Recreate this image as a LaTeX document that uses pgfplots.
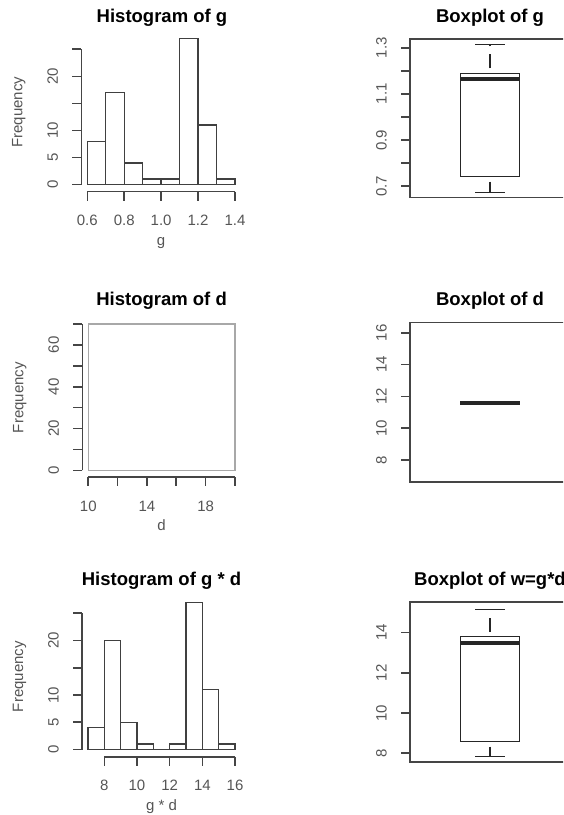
\documentclass[border=0pt]{standalone}
\usepackage{pgfplots}
\pgfplotsset{compat=1.18}
\usepgfplotslibrary{statistics}
\usepackage{fontspec}
\setmainfont{Liberation Sans}
\definecolor{axc}{HTML}{454545}
\definecolor{labc}{HTML}{555555}
\definecolor{barc}{HTML}{404040}
\definecolor{barl}{HTML}{A8A8A8}
\tikzset{
  axl/.style={draw=axc, line width=1.6pt},
  tkl/.style={font=\fontsize{15}{15}\selectfont, text=labc, inner sep=0pt},
  ttl/.style={font=\bfseries\fontsize{18.5}{20}\selectfont, text=black, inner sep=0pt, anchor=base},
}
\pgfplotsset{
  rpanel/.style={scale only axis, hide axis, clip=false, anchor=south west},
  boxplot/draw/lower whisker/.code={%
    \draw[dash pattern=on 14pt off 8pt, dash phase=17pt]
      (boxplot box cs:\pgfplotsboxplotvalue{lower quartile},0.5) -- (boxplot box cs:\pgfplotsboxplotvalue{lower whisker},0.5);
    \draw[solid] (boxplot whisker cs:\pgfplotsboxplotvalue{lower whisker},0) -- (boxplot whisker cs:\pgfplotsboxplotvalue{lower whisker},1);
  },
  boxplot/draw/upper whisker/.code={%
    \draw[dash pattern=on 14pt off 8pt, dash phase=17pt]
      (boxplot box cs:\pgfplotsboxplotvalue{upper quartile},0.5) -- (boxplot box cs:\pgfplotsboxplotvalue{upper whisker},0.5);
    \draw[solid] (boxplot whisker cs:\pgfplotsboxplotvalue{upper whisker},0) -- (boxplot whisker cs:\pgfplotsboxplotvalue{upper whisker},1);
  },
}
\begin{document}
\begin{tikzpicture}[x=1pt,y=1pt]
\useasboundingbox (0,0) rectangle (563,815);
\clip (0,0) rectangle (563,815);

% ---------------- Histogram of g
\begin{axis}[rpanel, ybar interval, at={(81.4pt,623.3pt)}, width=159.5pt, height=159.1pt,
  xmin=0.568, xmax=1.432, ymin=-1.33, ymax=28.08]
\addplot[fill=white, draw=barc, line width=1.3pt] coordinates {(0.6,8) (0.7,17) (0.8,4) (0.9,1) (1.0,1) (1.1,27) (1.2,11) (1.3,1) (1.4,1)};
\draw[axl] (axis cs:0.568,0) -- (axis cs:0.568,25);
\pgfplotsinvokeforeach{0,5,10,15,20,25}{\draw[axl] (axis cs:0.568,#1) -- ++(-9pt,0pt);}
\pgfplotsinvokeforeach{0,5,10,20}{\node[tkl, rotate=90, anchor=base] at ([xshift=-23.4pt]axis cs:0.568,#1) {#1};}
\draw[axl] (axis cs:0.6,-1.33) -- (axis cs:1.4,-1.33);
\pgfplotsinvokeforeach{0.6,0.8,1.0,1.2,1.4}{\draw[axl] (axis cs:#1,-1.33) -- ++(0pt,-9pt);
  \node[tkl, anchor=base] at ([yshift=-34pt]axis cs:#1,-1.33) {#1};}
\node[tkl, anchor=base] at ([yshift=-53.5pt]axis cs:1.0,-1.33) {g};
\node[tkl, rotate=90, anchor=base] at ([xshift=-59pt]rel axis cs:0,0.5) {Frequency};
\end{axis}

% ---------------- Boxplot of g
\begin{axis}[rpanel, at={(410pt,617.3pt)}, width=160pt, height=158.7pt,
  xmin=0, xmax=1, ymin=0.6506, ymax=1.3377]
\addplot[draw=black!85, line width=1.3pt,
  boxplot/draw direction=y,
  boxplot prepared={draw position=0.5, box extend=0.37, whisker extend=0.1875,
    lower whisker=0.674, lower quartile=0.7416, median=1.1645,
    upper quartile=1.189, upper whisker=1.3147},
  boxplot/every median/.style={line width=4pt}] coordinates {};
\draw[axl] (rel axis cs:0,0) rectangle (rel axis cs:1,1);
\pgfplotsinvokeforeach{0.7,0.8,0.9,1.0,1.1,1.2,1.3}{\draw[axl] (axis cs:0,#1) -- ++(-9pt,0pt);}
\pgfplotsinvokeforeach{0.7,0.9,1.1,1.3}{\node[tkl, rotate=90, anchor=base] at ([xshift=-23.4pt]axis cs:0,#1) {#1};}
\end{axis}

% ---------------- Histogram of d
\begin{axis}[rpanel, ybar interval, at={(82.4pt,337.7pt)}, width=158.4pt, height=159.3pt,
  xmin=9.6, xmax=20.4, ymin=-3.25, ymax=72.8]
\addplot[fill=white, draw=barl, line width=1.3pt] coordinates {(10,70) (20,70)};
\draw[axl] (axis cs:9.6,0) -- (axis cs:9.6,70);
\pgfplotsinvokeforeach{0,10,20,30,40,50,60,70}{\draw[axl] (axis cs:9.6,#1) -- ++(-9pt,0pt);}
\pgfplotsinvokeforeach{0,20,40,60}{\node[tkl, rotate=90, anchor=base] at ([xshift=-23.4pt]axis cs:9.6,#1) {#1};}
\draw[axl] (axis cs:10,-3.25) -- (axis cs:20,-3.25);
\pgfplotsinvokeforeach{10,12,14,16,18,20}{\draw[axl] (axis cs:#1,-3.25) -- ++(0pt,-9pt);}
\pgfplotsinvokeforeach{10,14,18}{\node[tkl, anchor=base] at ([yshift=-34pt]axis cs:#1,-3.25) {#1};}
\node[tkl, anchor=base] at ([yshift=-53.5pt]axis cs:15,-3.25) {d};
\node[tkl, rotate=90, anchor=base] at ([xshift=-59pt]rel axis cs:0,0.5) {Frequency};
\end{axis}

% ---------------- Boxplot of d
\begin{axis}[rpanel, at={(410pt,333pt)}, width=160pt, height=159.3pt,
  xmin=0, xmax=1, ymin=6.62, ymax=16.63]
\addplot[draw=black!85, line width=1.3pt,
  boxplot/draw direction=y,
  boxplot prepared={draw position=0.5, box extend=0.37, whisker extend=0.1875,
    lower whisker=11.58, lower quartile=11.58, median=11.58,
    upper quartile=11.58, upper whisker=11.58},
  boxplot/every median/.style={line width=4pt}] coordinates {};
\draw[axl] (rel axis cs:0,0) rectangle (rel axis cs:1,1);
\pgfplotsinvokeforeach{8,10,12,14,16}{\draw[axl] (axis cs:0,#1) -- ++(-9pt,0pt);
  \node[tkl, rotate=90, anchor=base] at ([xshift=-23.4pt]axis cs:0,#1) {#1};}
\end{axis}

% ---------------- Histogram of g * d
\begin{axis}[rpanel, ybar interval, at={(82.1pt,58.3pt)}, width=158.8pt, height=160.2pt,
  xmin=6.64, xmax=16.36, ymin=-1.32, ymax=28.08]
\addplot[fill=white, draw=barc, line width=1.3pt] coordinates {(7,4) (8,20) (9,5) (10,1) (11,0) (12,1) (13,27) (14,11) (15,1) (16,1)};
\draw[axl] (axis cs:6.64,0) -- (axis cs:6.64,25);
\pgfplotsinvokeforeach{0,5,10,15,20,25}{\draw[axl] (axis cs:6.64,#1) -- ++(-9pt,0pt);}
\pgfplotsinvokeforeach{0,5,10,20}{\node[tkl, rotate=90, anchor=base] at ([xshift=-23.4pt]axis cs:6.64,#1) {#1};}
\draw[axl] (axis cs:8,-1.32) -- (axis cs:16,-1.32);
\pgfplotsinvokeforeach{8,10,12,14,16}{\draw[axl] (axis cs:#1,-1.32) -- ++(0pt,-9pt);
  \node[tkl, anchor=base] at ([yshift=-34pt]axis cs:#1,-1.32) {#1};}
\node[tkl, anchor=base] at ([yshift=-53.5pt]axis cs:11.5,-1.32) {g * d};
\node[tkl, rotate=90, anchor=base] at ([xshift=-59pt]rel axis cs:0,0.5) {Frequency};
\end{axis}

% ---------------- Boxplot of w=g*d
\begin{axis}[rpanel, at={(410pt,52.7pt)}, width=160pt, height=160pt,
  xmin=0, xmax=1, ymin=7.55, ymax=15.51]
\addplot[draw=black!85, line width=1.3pt,
  boxplot/draw direction=y,
  boxplot prepared={draw position=0.5, box extend=0.37, whisker extend=0.1875,
    lower whisker=7.83, lower quartile=8.58, median=13.50,
    upper quartile=13.80, upper whisker=15.16},
  boxplot/every median/.style={line width=4pt}] coordinates {};
\draw[axl] (rel axis cs:0,0) rectangle (rel axis cs:1,1);
\pgfplotsinvokeforeach{8,10,12,14}{\draw[axl] (axis cs:0,#1) -- ++(-9pt,0pt);
  \node[tkl, rotate=90, anchor=base] at ([xshift=-23.4pt]axis cs:0,#1) {#1};}
\end{axis}

% ---------------- Titles
\node[ttl] at (162pt,792.3pt) {Histogram of g};
\node[ttl] at (490pt,792pt) {Boxplot of g};
\node[ttl] at (161.6pt,509pt) {Histogram of d};
\node[ttl] at (490pt,509pt) {Boxplot of d};
\node[ttl] at (161.5pt,229pt) {Histogram of g * d};
\node[ttl] at (490pt,229pt) {Boxplot of w=g*d};
\end{tikzpicture}
\end{document}
